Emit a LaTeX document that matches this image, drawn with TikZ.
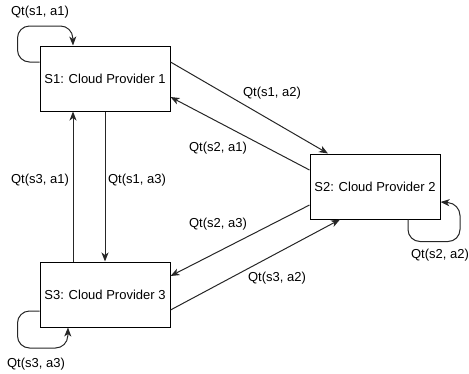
\documentclass[tikz,border=0pt]{standalone}
\usepackage{fontspec}
\setmainfont{Liberation Sans}
\usetikzlibrary{arrows.meta}
\tikzset{
  statebox/.style={draw=black, line width=1pt, fill=white, minimum width=130pt, minimum height=65pt, inner sep=0pt, font=\fontsize{13}{15}\selectfont},
  qlabel/.style={font=\fontsize{13}{15}\selectfont, inner sep=1pt},
  link/.style={draw=black!85, line width=1pt, -{Stealth[length=9pt,width=7pt,inset=2.5pt]}},
  loop/.style={link, rounded corners=12pt}
}
\begin{document}
\begin{tikzpicture}[x=1pt,y=-1pt]
\useasboundingbox (0,0) rectangle (469,373);

% the three providers
\node[statebox] (s1) at (105,78.5) {S1: Cloud Provider 1};
\node[statebox] (s2) at (375,186.5) {S2: Cloud Provider 2};
\node[statebox] (s3) at (105,294.5) {S3: Cloud Provider 3};

% self transitions
\draw[loop] ([yshift=16.5pt]s1.west) -- ++(-22,0) -- ++(0,-36) -- ++(55,0) -- ([xshift=-32pt]s1.north);
\draw[loop] ([yshift=-16.5pt]s3.west) -- ++(-22,0) -- ++(0,37) -- ++(50,0) -- ([xshift=-37pt]s3.south);
\draw[loop] ([xshift=33pt]s2.south) -- ++(0,22) -- ++(52,0) -- ++(0,-38) -- ([yshift=-15.5pt]s2.east);

% transitions between providers
\draw[link] ([yshift=16.5pt]s1.east) -- ([xshift=-47pt]s2.north);
\draw[link] ([yshift=16.5pt]s2.west) -- ([yshift=-18.5pt]s1.east);
\draw[link] ([yshift=-18.5pt]s2.west) -- ([yshift=18.5pt]s3.east);
\draw[link] ([yshift=-15.5pt]s3.east) -- ([xshift=-35pt]s2.south);
\draw[link] (s1.south) -- (s3.north);
\draw[link] ([xshift=-32pt]s3.north) -- ([xshift=-32pt]s1.south);

% action values
\node[qlabel] (q11) at (40,12) {Qt(s1, a1)};
\node[qlabel] (q12) at (272,93) {Qt(s1, a2)};
\node[qlabel] (q21) at (218,148) {Qt(s2, a1)};
\node[qlabel] (q23) at (218,224) {Qt(s2, a3)};
\node[qlabel] (q32) at (277,278) {Qt(s3, a2)};
\node[qlabel] (q31) at (40,180) {Qt(s3, a1)};
\node[qlabel] (q13) at (137,180) {Qt(s1, a3)};
\node[qlabel] (q22) at (440,255) {Qt(s2, a2)};
\node[qlabel] (q33) at (36,364) {Qt(s3, a3)};
\end{tikzpicture}
\end{document}
